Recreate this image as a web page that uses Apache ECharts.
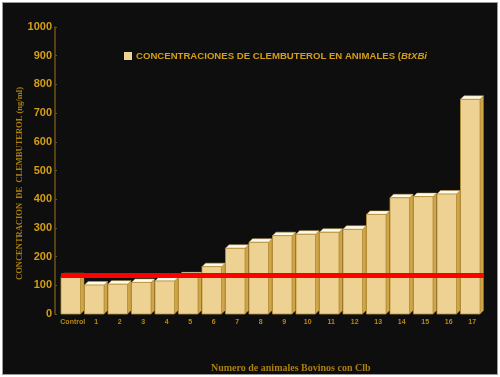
<!DOCTYPE html>
<html><head><meta charset="utf-8">
<script src="https://cdn.jsdelivr.net/npm/echarts@6/dist/echarts.min.js"></script>
<style>
html,body{margin:0;padding:0;background:#fff;}
#frame{position:absolute;left:2px;top:2px;width:494px;height:371px;border:1px solid #9a9a9a;background:#0e0e0e;}
#c{position:absolute;left:-3px;top:-3px;width:500px;height:377px;}
</style></head>
<body><div id="frame"><div id="c"></div></div>
<script>
const categories = ['Control','1','2','3','4','5','6','7','8','9','10','11','12','13','14','15','16','17'];
const values = [130,101,104,110,115,133,165,229,250,273,278,285,295,347,405,409,418,748];
const thresholdValue = 136;
const yTicks = [0,100,200,300,400,500,600,700,800,900,1000];
const seriesName = 'CONCENTRACIONES DE CLEMBUTEROL EN ANIMALES (BtXBi';

const gold = '#D49E17';
const chart = echarts.init(document.getElementById('c'));
chart.setOption({
  backgroundColor: 'transparent',
  animation: false,
  grid: {left: 61, right: 16, top: 27, bottom: 63},
  title: {
    text: 'Numero de animales Bovinos con Clb',
    left: 206, top: 358,
    textStyle: {fontFamily: 'Liberation Serif', fontWeight: 'bold', fontSize: 10, color: '#A97F10'}
  },
  legend: {
    left: 119, top: 46,
    itemWidth: 8, itemHeight: 8, itemGap: 4,
    data: [{name: seriesName, icon: 'rect'}],
    formatter: function(){ return '{a|CONCENTRACIONES DE CLEMBUTEROL EN ANIMALES (}{b|BtXBi}'; },
    textStyle: {
      color: gold, padding: [0,0,0,-1],
      rich: {
        a: {fontFamily: 'Liberation Sans', fontWeight: 'bold', fontSize: 9.6, color: gold},
        b: {fontFamily: 'Liberation Sans', fontWeight: 'bold', fontStyle: 'italic', fontSize: 9.6, color: gold}
      }
    }
  },
  xAxis: {
    type: 'category', data: categories,
    axisLine: {show: false},
    axisTick: {show: false},
    axisLabel: {interval: 0, color: '#B8880F', fontFamily: 'Liberation Sans', fontWeight: 'bold', fontSize: 7, margin: 5}
  },
  yAxis: {
    type: 'value', min: 0, max: 1000, interval: 100,
    offset: 6,
    name: 'CONCENTRACION  DE  CLEMBUTEROL (ng/ml)',
    nameLocation: 'middle', nameGap: 31, nameRotate: 90,
    nameMoveOverlap: false,
    nameTextStyle: {fontFamily: 'Liberation Serif', fontWeight: 'bold', fontSize: 8.5, color: '#A97F10', padding: [0, 26, 0, 0]},
    axisLine: {show: true, lineStyle: {color: '#6E5414', width: 1.5}},
    axisTick: {show: true, inside: true, length: 2, lineStyle: {color: '#555'}},
    splitLine: {show: false},
    axisLabel: {color: gold, fontFamily: 'Liberation Sans', fontWeight: 'bold', fontSize: 11, margin: 3,
      formatter: function(v){ return yTicks.indexOf(v) >= 0 ? String(v) : ''; }}
  },
  series: [
    {
      name: seriesName,
      type: 'custom',
      itemStyle: {color: '#EDD293'},
      data: categories.map((c, i) => [i, values[i]]),
      encode: {x: 0, y: 1},
      renderItem: function(params, api){
        const top = api.coord([api.value(0), api.value(1)]);
        const base = api.coord([api.value(0), 0]);
        const band = api.size([1, 0])[0];
        const dx = 3.5, dy = 3.5;
        const w = band - 4;
        const left = top[0] - band / 2;
        const t = top[1], b = base[1];
        return {
          type: 'group',
          children: [
            {type: 'polygon', shape: {points: [[left + w, t], [left + w + dx, t - dy], [left + w + dx, b - dy], [left + w, b]]},
              style: {fill: '#CFA548', stroke: '#A07E2A', lineWidth: 0.5}},
            {type: 'polygon', shape: {points: [[left, t], [left + dx, t - dy], [left + w + dx, t - dy], [left + w, t]]},
              style: {fill: '#FFFBEA', stroke: '#C9A450', lineWidth: 0.5}},
            {type: 'rect', shape: {x: left, y: t, width: w, height: b - t},
              style: {fill: '#EDD293', stroke: '#B99035', lineWidth: 0.8}}
          ]
        };
      },
      z: 2
    },
    {
      name: 'umbral',
      type: 'line',
      data: [],
      z: 10,
      markLine: {
        silent: true, symbol: 'none',
        label: {show: false},
        lineStyle: {color: '#FF0000', width: 5, type: 'solid'},
        data: [{yAxis: thresholdValue}]
      }
    }
  ]
});
</script></body></html>
